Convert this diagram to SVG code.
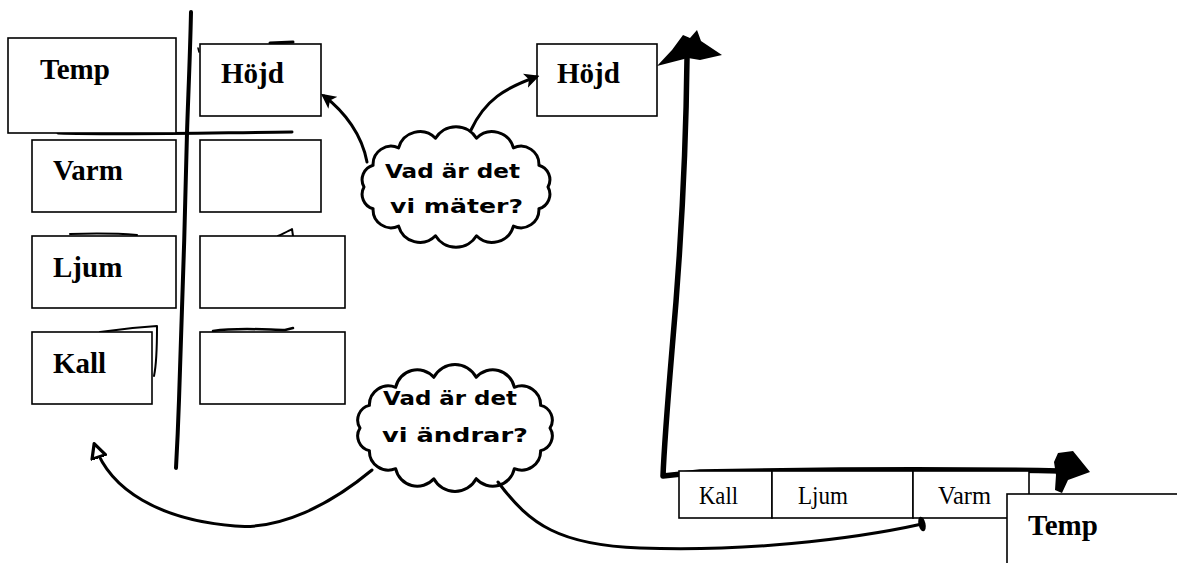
<svg xmlns="http://www.w3.org/2000/svg" width="1177" height="563" viewBox="0 0 1177 563">
<style>
.box{fill:#fff;stroke:#000;stroke-width:1.6}
.lbl{font-family:"Liberation Serif","Times New Roman",serif;font-weight:bold;font-size:29px;fill:#000}
.cell{font-family:"Liberation Serif","Times New Roman",serif;font-size:25px;fill:#000}
.hand{font-family:"DejaVu Sans","Noto Sans",sans-serif;font-weight:bold;font-size:19px;fill:#000}
.cloud{fill:#fff;stroke:#000;stroke-width:3;stroke-linejoin:round}
.ink{fill:none;stroke:#000;stroke-linecap:round;stroke-linejoin:round}
.conn{fill:none;stroke:#000;stroke-width:3;stroke-linecap:round}
</style>
<defs>
<marker id="head" viewBox="0 0 12 12" refX="9" refY="6" markerWidth="15" markerHeight="15" markerUnits="userSpaceOnUse" orient="auto">
<path d="M0,0 L12,6 L0,12 L3,6 Z" fill="#000"/>
</marker>
<marker id="hollow" viewBox="0 0 14 14" refX="10" refY="7" markerWidth="18" markerHeight="18" markerUnits="userSpaceOnUse" orient="auto">
<path d="M1,1.5 L12,7 L1,12.5 Z" fill="#fff" stroke="#000" stroke-width="2.5" stroke-linejoin="round"/>
</marker>
<marker id="blob" viewBox="0 0 12 16" refX="6" refY="8" markerWidth="12" markerHeight="16" markerUnits="userSpaceOnUse" orient="auto">
<ellipse cx="6" cy="8" rx="3.5" ry="7.5" fill="#000"/>
</marker>
</defs>

<g id="left-table-lines">
<path class="ink" d="M191,12 C190,60 188,100 187,133 C185,220 182,320 179,400 C178,430 177,450 176,468" stroke-width="4"/>
<path class="ink" d="M58,133 C120,135 200,133 292,132" stroke-width="3"/>
<path class="ink" d="M270,43 L293,42" stroke-width="3"/>
<path class="ink" d="M198,48 L199,52" stroke-width="1.5"/>
<path class="ink" d="M70,234 C100,233 125,234 137,235" stroke-width="2"/>
<path class="ink" d="M278,236 C284,233 289,231 292,229 L293,236" stroke-width="2"/>
<path class="ink" d="M100,332 C120,329 140,327 157,326 C157,345 157,362 154,376" stroke-width="2"/>
<path class="ink" d="M213,331 C240,327 270,330 285,330 L293,328" stroke-width="2.5"/>
</g>

<g id="temp-left"><rect class="box" x="8" y="38" width="168" height="95"/><text class="lbl" x="40" y="79">Temp</text></g>
<g id="hojd-left"><rect class="box" x="200" y="44" width="121" height="72"/><text class="lbl" x="221" y="83">Höjd</text></g>
<g id="varm-left"><rect class="box" x="32" y="140" width="144" height="72"/><text class="lbl" x="53" y="180">Varm</text></g>
<g id="varm-value"><rect class="box" x="200" y="140" width="121" height="72"/></g>
<g id="ljum-left"><rect class="box" x="32" y="236" width="144" height="72"/><text class="lbl" x="53" y="277">Ljum</text></g>
<g id="ljum-value"><rect class="box" x="200" y="236" width="145" height="72"/></g>
<g id="kall-left"><rect class="box" x="32" y="332" width="120" height="72"/><text class="lbl" x="53" y="373">Kall</text></g>
<g id="kall-value"><rect class="box" x="200" y="332" width="145" height="72"/></g>

<g id="cloud-mater">
<path class="cloud" d="M548,187 A15,15 0 0 1 538.9,208.7 A18,18 0 0 1 513.4,226.1 A22,22 0 0 1 476.5,235.75 A24,24 0 0 1 435.5,235.75 A22,22 0 0 1 398.6,226.1 A18,18 0 0 1 373.1,208.7 A15,15 0 0 1 364,187 A15,15 0 0 1 373.1,165.3 A18,18 0 0 1 398.6,147.9 A22,22 0 0 1 435.5,138.25 A24,24 0 0 1 476.5,138.25 A22,22 0 0 1 513.4,147.9 A18,18 0 0 1 538.9,165.3 A15,15 0 0 1 548,187 Z"/>
<text class="hand" x="385" y="178" textLength="135" lengthAdjust="spacingAndGlyphs">Vad är det</text>
<text class="hand" x="390" y="213" textLength="133" lengthAdjust="spacingAndGlyphs">vi mäter?</text>
</g>

<g id="cloud-andrar">
<path class="cloud" d="M550,428 A15,15 0 0 1 540.6,450.6 A19,19 0 0 1 514.3,468.7 A22,22 0 0 1 476.2,478.7 A24,24 0 0 1 433.8,478.7 A22,22 0 0 1 395.7,468.7 A19,19 0 0 1 369.4,450.6 A15,15 0 0 1 360,428 A15,15 0 0 1 369.4,405.4 A19,19 0 0 1 395.7,387.3 A22,22 0 0 1 433.8,377.3 A24,24 0 0 1 476.2,377.3 A22,22 0 0 1 514.3,387.3 A19,19 0 0 1 540.6,405.4 A15,15 0 0 1 550,428 Z"/>
<text class="hand" x="383" y="405" textLength="134" lengthAdjust="spacingAndGlyphs">Vad är det</text>
<text class="hand" x="382" y="442" textLength="146" lengthAdjust="spacingAndGlyphs">vi ändrar?</text>
</g>

<g id="hojd-right"><rect class="box" x="537" y="44" width="120" height="72"/><text class="lbl" x="557" y="83">Höjd</text></g>

<g id="axes">
<path class="ink" d="M687,58 C686,150 680,260 672,350 C667,410 664,450 663,476 L700,472 C800,470 950,469 1060,471" stroke-width="5.5"/>
<path d="M657,66 L672,50 L683,35 L690,38 L697,30 L701,41 L722,55 L700,60 L688,58 Z" fill="#000"/>
<path d="M1054,462 L1058,453 L1073,451 L1090,472 L1068,480 L1062,493 L1055,490 L1056,475 Z" fill="#000"/>
</g>

<g id="x-cells">
<rect class="box" x="679" y="471" width="93" height="47"/>
<rect class="box" x="772" y="471" width="141" height="47"/>
<rect class="box" x="913" y="471" width="116" height="47"/>
<text class="cell" x="699" y="504" textLength="39" lengthAdjust="spacingAndGlyphs">Kall</text>
<text class="cell" x="798" y="504" textLength="50" lengthAdjust="spacingAndGlyphs">Ljum</text>
<text class="cell" x="938" y="504" textLength="53" lengthAdjust="spacingAndGlyphs">Varm</text>
</g>

<g id="temp-right"><rect class="box" x="1007" y="494" width="180" height="80"/><text class="lbl" x="1028" y="535">Temp</text></g>

<g id="connectors">
<path class="conn" d="M367,162 C362,135 345,112 324,96" marker-end="url(#head)"/>
<path class="conn" d="M471,130 C485,100 505,88 536,77" marker-end="url(#head)"/>
<path class="conn" d="M372,470 C330,505 280,530 235,526 C160,520 110,490 95,446" marker-end="url(#hollow)"/>
<path class="conn" d="M498,482 C530,525 560,545 640,548 C740,552 850,540 922,524" marker-end="url(#blob)"/>
</g>
</svg>
